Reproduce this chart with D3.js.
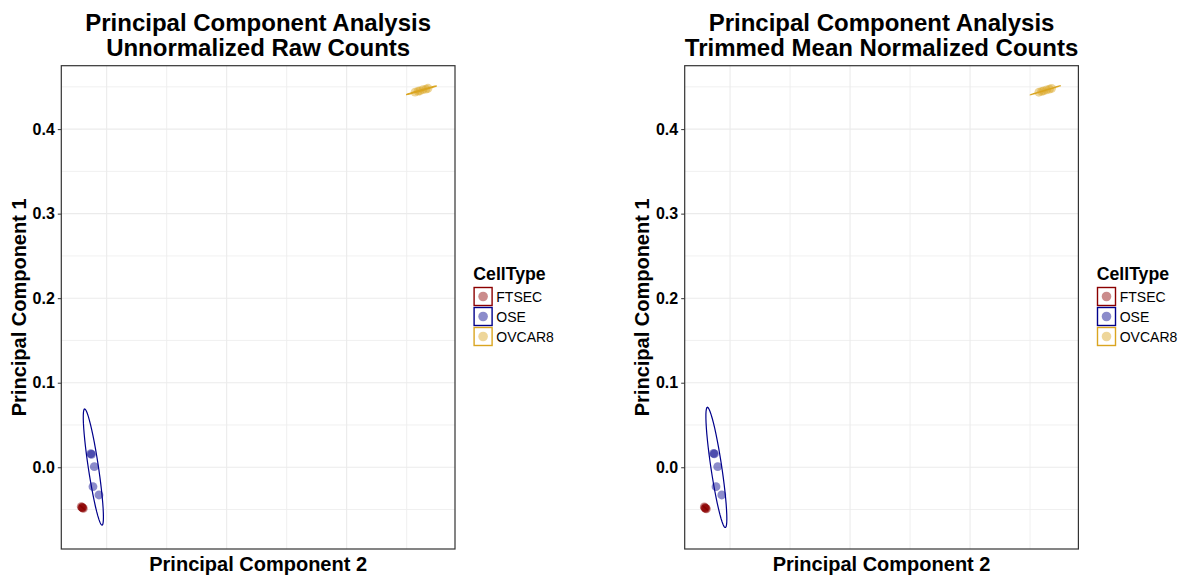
<!DOCTYPE html>
<html>
<head>
<meta charset="utf-8">
<script src="https://cdn.jsdelivr.net/npm/d3@7"></script>
<style>
  body { margin: 0; background: #fff; }
  svg { display: block; font-family: "Liberation Sans", Arial, Helvetica, sans-serif; }
</style>
</head>
<body>
<svg id="chart" width="1178" height="577"></svg>
<script>
// ---- data (PC2, PC1) ----
const cellTypes = ["FTSEC", "OSE", "OVCAR8"];
const typeColors = ["#8B0000", "#00008B", "#DAA520"];

const rawFtsec  = [[-0.1212, -0.0465], [-0.1205, -0.0473], [-0.1200, -0.0480], [-0.1194, -0.0487], [-0.1204, -0.0477]];
const rawOse    = [[-0.1132, 0.0160], [-0.1126, 0.0153], [-0.1103, 0.0007], [-0.1114, -0.0230], [-0.1064, -0.0328]];
const rawOvcar8 = [[0.1570, 0.4438], [0.1595, 0.4449], [0.1611, 0.4451], [0.1636, 0.4466], [0.1661, 0.4473], [0.1678, 0.4483]];

const tmmFtsec  = [[-0.1215, -0.0470], [-0.1209, -0.0479], [-0.1203, -0.0486], [-0.1197, -0.0492], [-0.1207, -0.0483]];
const tmmOse    = [[-0.1137, 0.0165], [-0.1131, 0.0158], [-0.1103, 0.0007], [-0.1117, -0.0230], [-0.1069, -0.0328]];
const tmmOvcar8 = [[0.1573, 0.4436], [0.1597, 0.4447], [0.1613, 0.4452], [0.1638, 0.4465], [0.1662, 0.4474], [0.1680, 0.4482]];

const yTicks = [0, 0.1, 0.2, 0.3, 0.4];
const yMinor = [-0.05, 0.05, 0.15, 0.25, 0.35, 0.45];
const xMajor = [-0.1, 0, 0.1];
const xMinor = [-0.05, 0.05, 0.15];
const xDomain = [-0.1378, 0.1903];
const yDomain = [-0.0967, 0.475];

const titles = ["Unnormalized Raw Counts", "Trimmed Mean Normalized Counts"];

const svg = d3.select("#chart");
const pw = 393.7, ph = 483.3;

// robust t covariance, like MASS::cov.trob (nu = 5)
function covTrob(pts, nu = 5, maxit = 25, tol = 0.01) {
    const n = pts.length, p = 2;
    let w = pts.map(() => 1);
    let loc = [d3.mean(pts, d => d[0]), d3.mean(pts, d => d[1])];
    let X = [];
    for (let it = 0; it < maxit; it++) {
        const w0 = w.slice();
        X = pts.map(d => [d[0] - loc[0], d[1] - loc[1]]);
        const sw = d3.sum(w);
        let a = 0, b = 0, c = 0;
        X.forEach((x, i) => { const k = w[i] / sw; a += k * x[0] * x[0]; b += k * x[0] * x[1]; c += k * x[1] * x[1]; });
        const det = a * c - b * b;
        const Q = X.map(x => (c * x[0] * x[0] - 2 * b * x[0] * x[1] + a * x[1] * x[1]) / det);
        w = Q.map(q => (nu + p) / (nu + q));
        const s = d3.sum(w);
        loc = [d3.sum(pts, (d, i) => w[i] * d[0]) / s, d3.sum(pts, (d, i) => w[i] * d[1]) / s];
        if (w.every((v, i) => Math.abs(v - w0[i]) < tol)) break;
    }
    let a = 0, b = 0, c = 0;
    X.forEach((x, i) => { a += w[i] * x[0] * x[0]; b += w[i] * x[0] * x[1]; c += w[i] * x[1] * x[1]; });
    return { center: loc, cov: [a / n, b / n, c / n] };
}

// 95% ellipse as in stat_ellipse (type = "t")
function ellipsePoints(pts) {
    const { center, cov } = covTrob(pts);
    const d = pts.length - 1;
    const qf = (d / 2) * (Math.pow(0.05, -2 / d) - 1);
    const radius = Math.sqrt(2 * qf);
    const r11 = Math.sqrt(cov[0]), r12 = cov[1] / r11, r22 = Math.sqrt(Math.max(cov[2] - r12 * r12, 0));
    return d3.range(52).map(k => {
        const t = k * 2 * Math.PI / 51;
        const cx = Math.cos(t), sy = Math.sin(t);
        return [center[0] + radius * cx * r11, center[1] + radius * (cx * r12 + sy * r22)];
    });
}

function drawPanel(ox, subtitle, groups) {
    const left = ox + 61.3, top = 65.7;
    const x = d3.scaleLinear().domain(xDomain).range([left, left + pw]);
    const y = d3.scaleLinear().domain(yDomain).range([top + ph, top]);
    const g = svg.append("g");

    // grid
    g.selectAll(".ymin").data(yMinor).join("line")
        .attr("x1", left).attr("x2", left + pw)
        .attr("y1", d => y(d)).attr("y2", d => y(d))
        .attr("stroke", "#eeeeee").attr("stroke-width", 0.9);
    g.selectAll(".xmin").data(xMinor).join("line")
        .attr("y1", top).attr("y2", top + ph)
        .attr("x1", d => x(d)).attr("x2", d => x(d))
        .attr("stroke", "#eeeeee").attr("stroke-width", 0.9);
    g.selectAll(".ymaj").data(yTicks).join("line")
        .attr("x1", left).attr("x2", left + pw)
        .attr("y1", d => y(d)).attr("y2", d => y(d))
        .attr("stroke", "#ebebeb").attr("stroke-width", 1.1);
    g.selectAll(".xmaj").data(xMajor).join("line")
        .attr("y1", top).attr("y2", top + ph)
        .attr("x1", d => x(d)).attr("x2", d => x(d))
        .attr("stroke", "#ebebeb").attr("stroke-width", 1.1);

    // points then ellipses
    const line = d3.line().x(d => x(d[0])).y(d => y(d[1]));
    groups.forEach((pts, i) => {
        g.append("g").selectAll("circle").data(pts).join("circle")
            .attr("cx", d => x(d[0])).attr("cy", d => y(d[1]))
            .attr("r", 4.4)
            .attr("fill", typeColors[i]).attr("fill-opacity", 0.45);
    });
    groups.forEach((pts, i) => {
        g.append("path").datum(ellipsePoints(pts))
            .attr("d", line)
            .attr("fill", "none")
            .attr("stroke", typeColors[i]).attr("stroke-width", 1.2);
    });

    // border
    g.append("rect").attr("x", left).attr("y", top).attr("width", pw).attr("height", ph)
        .attr("fill", "none").attr("stroke", "#333").attr("stroke-width", 1.2);

    // y axis
    const yAxis = d3.axisLeft(y).tickValues(yTicks).tickFormat(d3.format(".1f")).tickSize(3.5).tickPadding(3);
    const ya = g.append("g").attr("transform", `translate(${left},0)`).call(yAxis);
    ya.select(".domain").remove();
    ya.selectAll(".tick line").attr("stroke", "#333");
    ya.selectAll(".tick text").attr("fill", "#000").style("font-size", "16px").style("font-weight", "bold")
        .style("font-family", '"Liberation Sans", Arial, sans-serif');

    // titles
    const cx = left + pw / 2;
    const t = g.append("text").attr("text-anchor", "middle")
        .style("font-size", "24px").style("font-weight", "bold");
    t.append("tspan").attr("x", cx).attr("y", 31).text("Principal Component Analysis");
    t.append("tspan").attr("x", cx).attr("y", 55.5).text(subtitle);

    g.append("text").attr("x", cx).attr("y", 571).attr("text-anchor", "middle")
        .style("font-size", "20px").style("font-weight", "bold").text("Principal Component 2");
    g.append("text").attr("transform", `translate(${ox + 26},${top + ph / 2}) rotate(-90)`)
        .attr("text-anchor", "middle")
        .style("font-size", "20px").style("font-weight", "bold").text("Principal Component 1");

    // legend
    const lx = ox + 473.3;
    g.append("text").attr("x", lx).attr("y", 280).style("font-size", "17.7px").style("font-weight", "bold").text("CellType");
    const key = g.selectAll(".key").data(cellTypes).join("g")
        .attr("transform", (d, i) => `translate(${lx},${287 + i * 20})`);
    key.append("rect").attr("x", 0.8).attr("y", 0.5).attr("width", 18).attr("height", 18)
        .attr("fill", "#fff").attr("stroke", (d, i) => typeColors[i]).attr("stroke-width", 1.4);
    key.append("circle").attr("cx", 9.8).attr("cy", 9.5).attr("r", 4.8)
        .attr("fill", (d, i) => typeColors[i]).attr("fill-opacity", 0.45);
    key.append("text").attr("x", 23).attr("y", 14.5).style("font-size", "14px").text(d => d);
}

drawPanel(0, titles[0], [rawFtsec, rawOse, rawOvcar8]);
drawPanel(623.4, titles[1], [tmmFtsec, tmmOse, tmmOvcar8]);
</script>
</body>
</html>
